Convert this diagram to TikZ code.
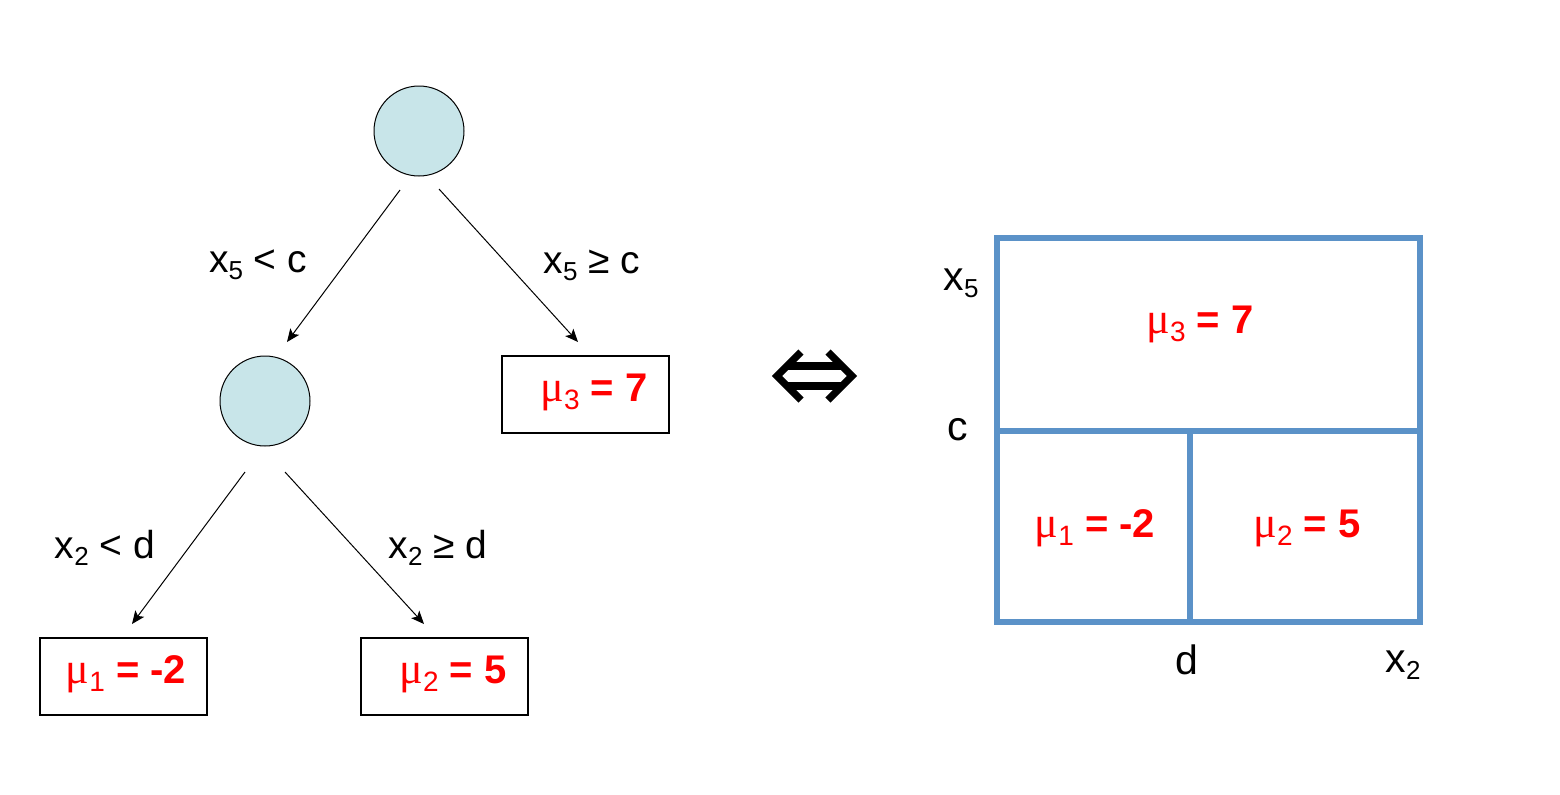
\documentclass[tikz,border=0pt]{standalone}
\usepackage{fontspec}
\setmainfont{Liberation Sans}
\newfontfamily\muf{Liberation Serif}
\usetikzlibrary{calc,arrows.meta}
\definecolor{nodefill}{HTML}{C8E5E9}
\definecolor{gridblue}{HTML}{5B92C8}
\newcommand{\xs}[2]{#1\raisebox{-3.6pt}{\fontsize{13}{13}\selectfont #2}}
\newcommand{\mus}[2]{{\muf\fontsize{22}{22}\selectfont μ}\raisebox{-4pt}{\fontsize{14}{14}\selectfont #1}\ \textbf{= #2}}
\tikzset{
  splitnode/.style={circle, draw, fill=nodefill, minimum size=45pt, inner sep=0pt, line width=0.5pt},
  leafbox/.style={draw, minimum width=83.5pt, minimum height=38.5pt, inner sep=0pt, line width=0.6pt},
  redtxt/.style={text=red, font=\fontsize{20}{24}\selectfont, inner sep=0pt},
  lbl/.style={font=\fontsize{19.5}{23}\selectfont, inner sep=0pt},
  axl/.style={font=\fontsize{20.5}{24}\selectfont, inner sep=0pt},
  arr/.style={-{Stealth[length=6.5pt,width=5.5pt,inset=1.5pt]}, line width=0.5pt},
  grid/.style={draw=gridblue, line width=3pt},
  dbl/.style={line width=3.6pt, line join=miter}
}
\begin{document}
\begin{tikzpicture}[x=0.5pt,y=-0.5pt]
\useasboundingbox (0,0) rectangle (1560,794);
% tree
\node[splitnode] (root) at (419,131) {};
\node[splitnode] (n2) at (265,401) {};
\node[leafbox] (l3) at (585.5,394.5) {};
\node[leafbox] (l1) at (123.5,676.5) {};
\node[leafbox] (l2) at (444.5,676.5) {};
\node[redtxt] (t3) at (594,392) {\mus{3}{7}};
\node[redtxt] (t1) at (126,674) {\mus{1}{-2}};
\node[redtxt] (t2) at (453,674) {\mus{2}{5}};
\draw[arr] ($(root.center)+(-19,59)$) -- ($(n2.center)+(22,-59)$);
\draw[arr] ($(root.center)+(20,58)$) -- ($(l3.center)+(-7.5,-52.5)$);
\draw[arr] ($(n2.center)+(-20,71)$) -- ($(l1.center)+(8.5,-52.5)$);
\draw[arr] ($(n2.center)+(20,71)$) -- ($(l2.center)+(-20.5,-52.5)$);
\node[lbl] (e1) at (258,265) {\xs{x}{5} < c};
\node[lbl] (e2) at (592,265) {\xs{x}{5} ≥ c};
\node[lbl] (e3) at (105,548) {\xs{x}{2} < d};
\node[lbl] (e4) at (438,548) {\xs{x}{2} ≥ d};
% double arrow
\draw[dbl] (801,352) -- (777,376) -- (801,400);
\draw[dbl] (828,352) -- (852,376) -- (828,400);
\draw[dbl] (786,366) -- (843,366);
\draw[dbl] (786,386) -- (843,386);
% partition
\draw[grid, line join=miter] (997,238) rectangle (1420,622);
\draw[grid] (997,431) -- (1420,431);
\draw[grid] (1190,431) -- (1190,622);
\node[redtxt] (r3) at (1200,324) {\mus{3}{7}};
\node[redtxt] (r1) at (1095,528) {\mus{1}{-2}};
\node[redtxt] (r2) at (1307,528) {\mus{2}{5}};
\node[axl] (ax5) at (961,283) {\xs{x}{5}};
\node[axl] (ac) at (958,430) {c};
\node[axl] (ad) at (1187,660) {d};
\node[axl] (ax2) at (1403,665) {\xs{x}{2}};
\end{tikzpicture}
\end{document}
